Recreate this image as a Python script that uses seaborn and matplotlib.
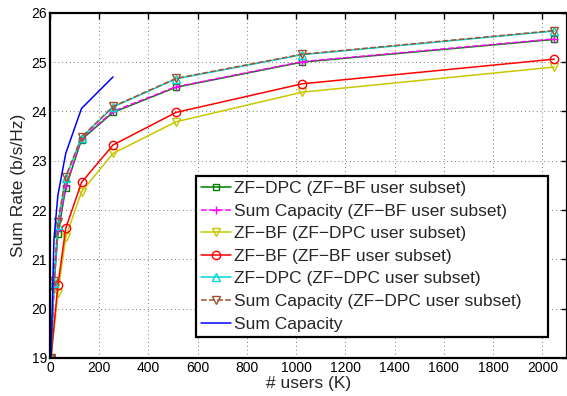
import numpy as np
import pandas as pd
import matplotlib
matplotlib.use("Agg")
import matplotlib.pyplot as plt
import seaborn as sns

# ---- data ----
k_full = [4, 16, 32, 64, 128, 256, 512, 1024, 2048]
k_bf = [4, 32, 64, 128, 256, 512, 1024, 2048]
k_cap = [4, 16, 32, 64, 128, 256]

zfdpc_bfsub = [19.0, 20.45, 21.52, 22.45, 23.43, 23.98, 24.49, 25.00, 25.46]
sumcap_bfsub = [19.0, 20.48, 21.60, 22.48, 23.45, 24.00, 24.50, 25.01, 25.47]
zfbf_dpcsub = [19.0, 20.31, 21.45, 22.37, 23.15, 23.79, 24.39, 24.90]
zfbf_bfsub = [19.0, 20.48, 21.63, 22.56, 23.32, 23.98, 24.56, 25.06]
zfdpc_dpcsub = [19.0, 20.52, 21.70, 22.65, 23.47, 24.09, 24.66, 25.15, 25.63]
sumcap_dpcsub = [19.0, 20.57, 21.76, 22.68, 23.48, 24.10, 24.67, 25.16, 25.64]
sumcap = [19.0, 21.4, 22.3, 23.15, 24.06, 24.70]

labels = [
    "ZF\u2212DPC (ZF\u2212BF user subset)",
    "Sum Capacity (ZF\u2212BF user subset)",
    "ZF\u2212BF (ZF\u2212DPC user subset)",
    "ZF\u2212BF (ZF\u2212BF user subset)",
    "ZF\u2212DPC (ZF\u2212DPC user subset)",
    "Sum Capacity (ZF\u2212DPC user subset)",
    "Sum Capacity",
]

series = [
    (k_full, zfdpc_bfsub, "#008000", "s", "-", 4),
    (k_full, sumcap_bfsub, "#ff00ff", "+", "--", 6),
    (k_bf, zfbf_dpcsub, "#c8c800", "v", "-", 6),
    (k_bf, zfbf_bfsub, "#ff0000", "o", "-", 6),
    (k_full, zfdpc_dpcsub, "#00d8d8", "^", "-", 6),
    (k_full, sumcap_dpcsub, "#a0522d", "v", "--", 6),
    (k_cap, sumcap, "#0000ff", None, "-", 0),
]

sns.set_style("white")
plt.rcParams["font.family"] = ["Liberation Sans", "DejaVu Sans"]

fig = plt.figure(figsize=(5.67, 3.96), dpi=100)
ax = fig.add_axes([50 / 567, 38 / 396, 517 / 567, 345.2 / 396])

for (x, y, c, m, ls, ms), lab in zip(series, labels):
    df = pd.DataFrame({"K": x, "rate": y})
    kw = dict(color=c, linestyle=ls, linewidth=1.1, label=lab, ax=ax)
    if m is not None:
        kw.update(marker=m, markersize=ms, markerfacecolor="none",
                  markeredgecolor=c, markeredgewidth=1.0)
    sns.lineplot(data=df, x="K", y="rate", **kw)

ax.set_xlim(0, 2100)
ax.set_ylim(19, 26)
ax.set_xticks(np.arange(0, 2001, 200))
ax.set_yticks(np.arange(19, 27, 1))
ax.grid(True, linestyle=(0, (1, 3)), color="#777777", linewidth=0.7)
ax.tick_params(direction="in", length=4, width=1, top=True, right=True,
               labelsize=10, pad=2, colors="black")
for s in ax.spines.values():
    s.set_linewidth(1.6)
    s.set_color("black")
ax.set_xlabel("# users (K)", fontsize=12.5, labelpad=1)
ax.set_ylabel("Sum Rate (b/s/Hz)", fontsize=12.5, labelpad=4)

leg = ax.legend(loc="lower left", bbox_to_anchor=(0.282, 0.061, 0.681, 0.469),
                mode="expand", fontsize=12.5, frameon=True, fancybox=False,
                edgecolor="black", framealpha=1, handlelength=1.7,
                handletextpad=0.2, labelspacing=0.43, borderpad=0.3,
                borderaxespad=0)
leg.get_frame().set_linewidth(1.6)

fig.savefig("out.png", dpi=100)
